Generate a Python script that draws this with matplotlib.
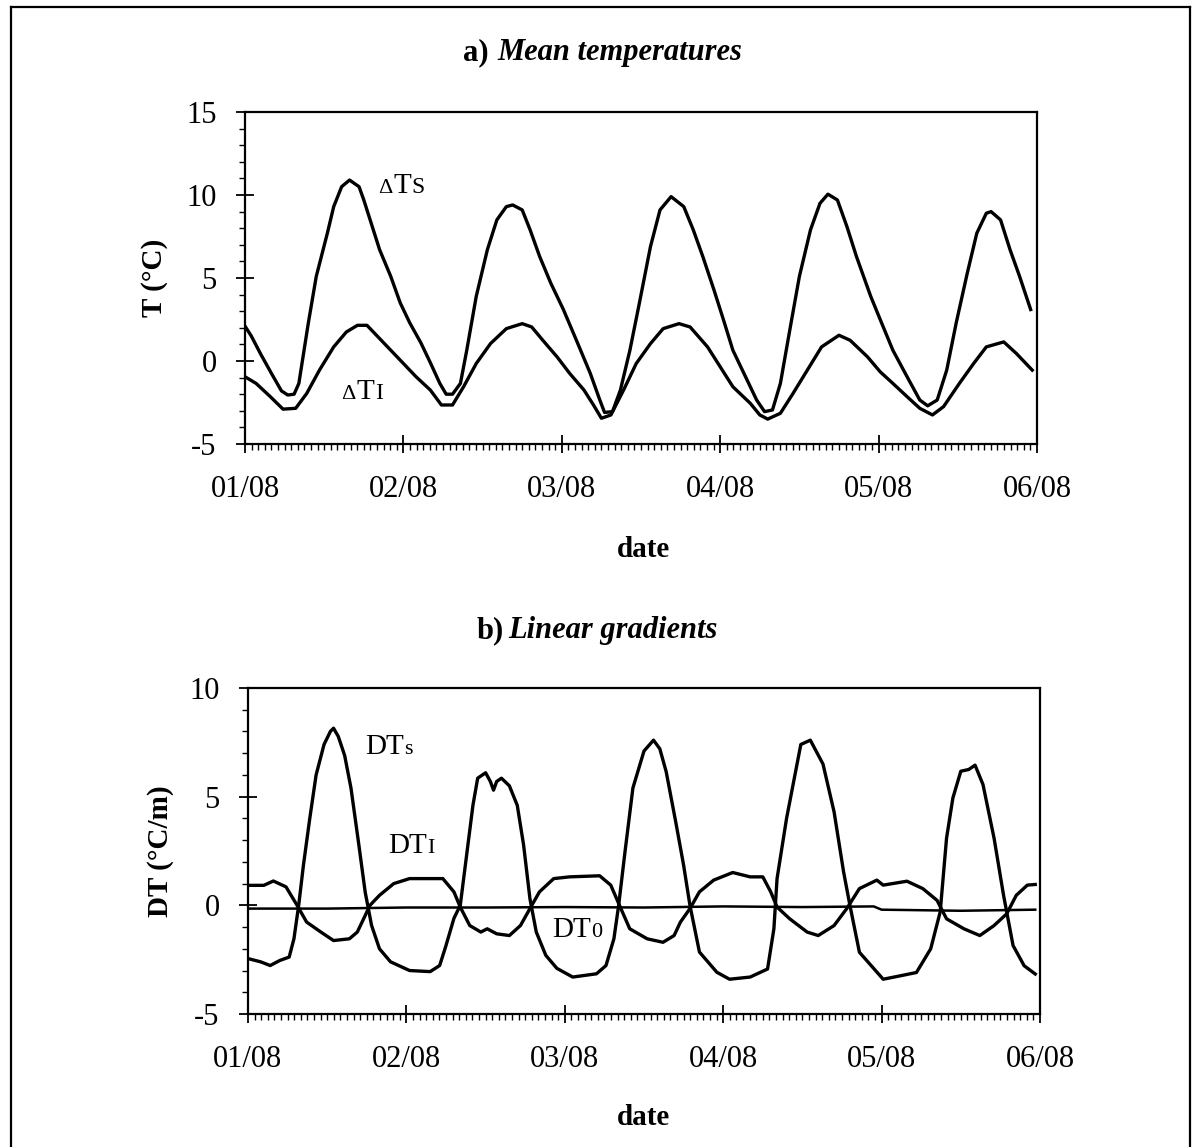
import matplotlib
matplotlib.use('Agg')
import matplotlib.pyplot as plt
from matplotlib.ticker import MultipleLocator
from matplotlib.lines import Line2D

plt.rcParams['font.family'] = ['Liberation Serif', 'DejaVu Serif']
plt.rcParams['axes.unicode_minus'] = False

# x = days since 01/08
date_labels = ['01/08', '02/08', '03/08', '04/08', '05/08', '06/08']

# a) mean temperatures
ts_day = [0.00, 0.04, 0.10, 0.17, 0.23, 0.27, 0.31, 0.34, 0.40, 0.45, 0.52, 0.56, 0.61, 0.66,
          0.72, 0.75, 0.79, 0.85, 0.92, 0.98, 1.04, 1.11, 1.17, 1.23, 1.27, 1.31, 1.36, 1.40,
          1.46, 1.53, 1.59, 1.65, 1.69, 1.75, 1.80, 1.86, 1.93, 2.01, 2.09, 2.18, 2.24, 2.27,
          2.32, 2.37, 2.43, 2.49, 2.56, 2.62, 2.69, 2.77, 2.83, 2.89, 2.96, 3.02, 3.08, 3.17,
          3.23, 3.28, 3.33, 3.38, 3.44, 3.50, 3.57, 3.63, 3.68, 3.74, 3.80, 3.86, 3.95, 4.01,
          4.09, 4.18, 4.26, 4.31, 4.37, 4.43, 4.49, 4.56, 4.62, 4.68, 4.71, 4.77, 4.83, 4.89,
          4.96]
ts_val = [2.1, 1.5, 0.4, -0.8, -1.8, -2.05, -2.0, -1.35, 2.3, 5.1, 7.7, 9.3, 10.5, 10.9,
          10.5, 9.7, 8.5, 6.7, 5.1, 3.5, 2.3, 1.1, -0.1, -1.35, -2.0, -2.0, -1.35, 0.65,
          3.9, 6.7, 8.5, 9.3, 9.4, 9.1, 7.9, 6.3, 4.7, 3.1, 1.3, -0.75, -2.35, -3.1,
          -3.05, -1.75, 0.65, 3.5, 6.9, 9.1, 9.9, 9.3, 7.9, 6.3, 4.3, 2.5, 0.65, -1.15,
          -2.35, -3.05, -2.95, -1.35, 1.9, 5.1, 7.9, 9.5, 10.05, 9.7, 8.1, 6.3, 3.9, 2.5,
          0.65, -0.95, -2.35, -2.7, -2.35, -0.55, 2.3, 5.3, 7.7, 8.9, 9.0, 8.5, 6.7, 5.1,
          3.1]

ti_day = [0.00, 0.07, 0.16, 0.24, 0.32, 0.39, 0.47, 0.56, 0.64, 0.71, 0.77, 0.83, 0.92, 1.00,
          1.08, 1.17, 1.24, 1.31, 1.38, 1.46, 1.55, 1.65, 1.75, 1.81, 1.88, 1.97, 2.05, 2.14,
          2.20, 2.25, 2.31, 2.39, 2.47, 2.56, 2.64, 2.74, 2.81, 2.92, 3.00, 3.08, 3.19, 3.25,
          3.30, 3.38, 3.46, 3.55, 3.64, 3.75, 3.82, 3.93, 4.01, 4.09, 4.18, 4.26, 4.34, 4.41,
          4.51, 4.60, 4.68, 4.79, 4.87, 4.97]
ti_val = [-0.95, -1.35, -2.15, -2.9, -2.85, -1.95, -0.55, 0.85, 1.75, 2.15, 2.15, 1.55, 0.65, -0.15,
          -0.95, -1.75, -2.65, -2.65, -1.55, -0.15, 1.05, 1.95, 2.25, 2.05, 1.25, 0.25, -0.75, -1.75,
          -2.65, -3.45, -3.25, -1.75, -0.15, 1.05, 1.95, 2.25, 2.05, 0.85, -0.35, -1.55, -2.55, -3.25,
          -3.5, -3.15, -1.95, -0.55, 0.85, 1.55, 1.25, 0.25, -0.65, -1.35, -2.15, -2.85, -3.25, -2.75,
          -1.35, -0.15, 0.85, 1.15, 0.45, -0.55]

# b) linear gradients
dts_day = [0.00, 0.08, 0.14, 0.20, 0.26, 0.29, 0.32, 0.35, 0.39, 0.43, 0.48, 0.52, 0.54, 0.57,
           0.61, 0.65, 0.70, 0.74, 0.78, 0.83, 0.90, 1.02, 1.15, 1.21, 1.25, 1.30, 1.34, 1.38,
           1.42, 1.45, 1.50, 1.53, 1.55, 1.57, 1.60, 1.65, 1.70, 1.74, 1.78, 1.82, 1.88, 1.95,
           2.05, 2.20, 2.26, 2.31, 2.34, 2.38, 2.43, 2.50, 2.56, 2.60, 2.64, 2.70, 2.75, 2.79,
           2.85, 2.96, 3.04, 3.17, 3.28, 3.32, 3.34, 3.40, 3.49, 3.55, 3.63, 3.70, 3.76, 3.80,
           3.86, 4.01, 4.12, 4.22, 4.31, 4.37, 4.41, 4.45, 4.50, 4.55, 4.59, 4.64, 4.71, 4.77,
           4.83, 4.90, 4.97]
dts_val = [-2.45, -2.6, -2.77, -2.54, -2.38, -1.54, 0.0, 1.85, 4.0, 6.0, 7.4, 8.0, 8.15, 7.77,
           6.9, 5.4, 2.77, 0.6, -0.92, -2.0, -2.6, -3.0, -3.05, -2.77, -1.85, -0.6, 0.0, 2.3,
           4.6, 5.85, 6.1, 5.7, 5.3, 5.7, 5.85, 5.5, 4.6, 2.77, 0.3, -1.23, -2.3, -2.9,
           -3.3, -3.15, -2.77, -1.54, 0.0, 2.46, 5.4, 7.1, 7.6, 7.2, 6.15, 3.85, 1.85, 0.0,
           -2.15, -3.08, -3.4, -3.3, -2.93, -1.08, 1.23, 4.0, 7.4, 7.6, 6.5, 4.3, 1.54, 0.0,
           -2.16, -3.4, -3.24, -3.09, -2.0, -0.3, 3.09, 4.94, 6.17, 6.25, 6.45, 5.56, 3.09, 0.46,
           -1.85, -2.78, -3.16]

dti_day = [0.00, 0.10, 0.16, 0.24, 0.31, 0.37, 0.46, 0.54, 0.64, 0.69, 0.73, 0.77, 0.83, 0.92,
           1.02, 1.23, 1.30, 1.34, 1.40, 1.47, 1.51, 1.57, 1.65, 1.72, 1.78, 1.84, 1.93, 2.03,
           2.22, 2.29, 2.35, 2.41, 2.52, 2.62, 2.69, 2.73, 2.79, 2.85, 2.94, 3.06, 3.17, 3.25,
           3.30, 3.34, 3.42, 3.53, 3.60, 3.70, 3.78, 3.86, 3.97, 4.01, 4.16, 4.26, 4.35, 4.41,
           4.52, 4.62, 4.71, 4.79, 4.85, 4.92, 4.97]
dti_val = [0.92, 0.92, 1.12, 0.85, 0.0, -0.77, -1.23, -1.62, -1.54, -1.23, -0.62, 0.0, 0.46, 1.0,
           1.23, 1.23, 0.62, -0.08, -0.93, -1.23, -1.08, -1.31, -1.39, -0.93, -0.15, 0.62, 1.23, 1.31,
           1.36, 0.93, -0.08, -1.08, -1.54, -1.7, -1.39, -0.77, -0.15, 0.62, 1.16, 1.51, 1.31, 1.31,
           0.62, -0.08, -0.62, -1.23, -1.39, -0.93, -0.15, 0.77, 1.16, 0.93, 1.11, 0.77, 0.23, -0.62,
           -1.08, -1.39, -0.93, -0.39, 0.46, 0.93, 0.96]

dt0_day = [0.00, 0.50, 1.00, 1.50, 2.00, 2.50, 3.00, 3.50, 3.95, 4.00, 4.50, 4.97]
dt0_val = [-0.15, -0.15, -0.1, -0.1, -0.08, -0.1, -0.05, -0.08, -0.05, -0.2, -0.25, -0.2]

W, H = 1195, 1147
fig = plt.figure(figsize=(W / 100, H / 100), dpi=100)


def px(x, y):
    return x / W, 1 - y / H


def style_axes(ax, ymin, ymax, yticks):
    ax.set_xlim(0, 5)
    ax.set_ylim(ymin, ymax)
    ax.set_xticks(range(6))
    ax.set_xticklabels(date_labels)
    ax.set_yticks(yticks)
    ax.set_yticklabels([str(v) for v in yticks])
    ax.xaxis.set_minor_locator(MultipleLocator(1 / 24))
    ax.yaxis.set_minor_locator(MultipleLocator(1))
    ax.tick_params(which='major', direction='inout', length=13, width=1.3, labelsize=22)
    ax.tick_params(axis='y', which='major', pad=14)
    ax.tick_params(axis='x', which='major', pad=16)
    ax.tick_params(which='minor', direction='out', length=4.5, width=1)
    for s in ax.spines.values():
        s.set_linewidth(1.6)


# top panel
ax1 = fig.add_axes([245 / W, 1 - 444 / H, (1037 - 245) / W, (444 - 112) / H])
ax1.plot(ts_day, ts_val, color='black', lw=2.4, solid_joinstyle='round')
ax1.plot(ti_day, ti_val, color='black', lw=2.4, solid_joinstyle='round')
style_axes(ax1, -5, 15, [-5, 0, 5, 10, 15])
for small, xx, yy in [('S', 0.84, 10.1), ('I', 0.61, -2.3)]:
    ax1.text(xx, yy, '\u0394', fontsize=16)
    ax1.annotate('T', (xx, yy), xytext=(11, 0), textcoords='offset points', fontsize=21)
    ax1.annotate(small, (xx, yy), xytext=(24, 0), textcoords='offset points', fontsize=17)

# bottom panel
ax2 = fig.add_axes([248 / W, 1 - 1014 / H, (1040 - 248) / W, (1014 - 688) / H])
ax2.plot(dts_day, dts_val, color='black', lw=2.4, solid_joinstyle='round')
ax2.plot(dti_day, dti_val, color='black', lw=2.4, solid_joinstyle='round')
ax2.plot(dt0_day, dt0_val, color='black', lw=1.8)
style_axes(ax2, -5, 10, [-5, 0, 5, 10])
for lab, small, xx, yy in [('DT', 's', 0.74, 6.95), ('DT', 'I', 0.885, 2.4), ('DT', '0', 1.92, -1.45)]:
    ax2.text(xx, yy, lab, fontsize=21)
    ax2.annotate(small, (xx, yy), xytext=(28, 0), textcoords='offset points', fontsize=16)

# titles and labels
fig.text(*px(463, 60), 'a)', fontsize=22, fontweight='bold')
fig.text(*px(497, 60), 'Mean temperatures', fontsize=22, fontweight='bold', style='italic')
fig.text(*px(477, 638), 'b)', fontsize=22, fontweight='bold')
fig.text(*px(508, 638), 'Linear gradients', fontsize=22, fontweight='bold', style='italic')
fig.text(*px(644, 557), 'date', fontsize=21, fontweight='bold', ha='center')
fig.text(*px(644, 1125), 'date', fontsize=21, fontweight='bold', ha='center')
fig.text(*px(155, 278), 'T (\u00b0C)', fontsize=21, fontweight='bold', rotation=90,
         ha='center', va='center')
fig.text(*px(160, 851), 'DT (\u00b0C/m)', fontsize=21, fontweight='bold', rotation=90,
         ha='center', va='center')

# outer frame
fx0, fy0 = px(11, 7)
fx1, _ = px(1190, 7)
for xs, ys in [([fx0, fx0], [-0.01, fy0]), ([fx0, fx1], [fy0, fy0]), ([fx1, fx1], [fy0, -0.01])]:
    fig.add_artist(Line2D(xs, ys, transform=fig.transFigure, color='black', lw=1.6))

fig.savefig('out.png', dpi=100)
